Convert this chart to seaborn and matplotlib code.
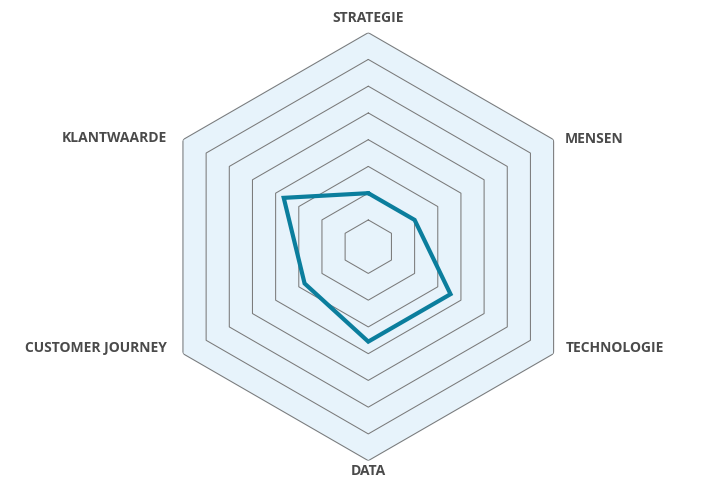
import numpy as np
import pandas as pd
import seaborn as sns
import matplotlib.pyplot as plt

# === DATA ===
categories = ["STRATEGIE", "MENSEN", "TECHNOLOGIE", "DATA", "CUSTOMER JOURNEY", "KLANTWAARDE"]
scores = [2.0, 2.0, 3.55, 3.55, 2.75, 3.65]
ring_levels = [1, 2, 3, 4, 5, 6, 7, 8]

# === SETTINGS ===
sns.set_theme(style="white")
plt.rcParams["font.family"] = ["Open Sans", "DejaVu Sans"]

LINE_COLOR = "#0b7e9d"
FILL_COLOR = "#e7f3fb"
GRID_COLOR = "#7a7a7a"
TEXT_COLOR = "#4a4a4a"

n = len(categories)
angles = np.linspace(0, 2 * np.pi, n, endpoint=False)
closed_angles = np.append(angles, 2 * np.pi)

fig = plt.figure(figsize=(7.2, 4.86), dpi=100)
ax = fig.add_axes([0.2143, 0.0521, 0.5944, 0.8807], polar=True)
ax.set_theta_offset(np.pi / 2)
ax.set_theta_direction(-1)
ax.set_ylim(0, ring_levels[-1])

# background hexagon and rings
outer = ring_levels[-1]
ax.fill(closed_angles, [outer] * (n + 1), color=FILL_COLOR, zorder=1)
for lvl in ring_levels:
    ax.plot(closed_angles, [lvl] * (n + 1), color=GRID_COLOR, lw=0.75, zorder=2)

# score polygon
df = pd.DataFrame({"theta": closed_angles, "score": scores + scores[:1]})
sns.lineplot(data=df, x="theta", y="score", sort=False, estimator=None,
             color=LINE_COLOR, lw=3.0, ax=ax, zorder=3)
ax.lines[-1].set_solid_joinstyle("miter")

# axis labels around the hexagon
label_style = [
    ((0, 15), "center", "center"),
    ((11, 1), "left", "center"),
    ((12, 6), "left", "center"),
    ((0, -10), "center", "center"),
    ((-16, 6), "right", "center"),
    ((-16, 1.5), "right", "center"),
]
for ang, cat, (off, ha, va) in zip(angles, categories, label_style):
    ax.annotate(cat, xy=(ang, outer), xytext=off, textcoords="offset pixels",
                ha=ha, va=va, fontsize=10, fontweight="bold", color=TEXT_COLOR,
                annotation_clip=False)

ax.set_xlabel("")
ax.set_ylabel("")
ax.set_xticks([])
ax.set_yticks([])
ax.grid(False)
ax.spines["polar"].set_visible(False)
ax.set_facecolor("none")

plt.savefig("out.png", dpi=100)
plt.close()
